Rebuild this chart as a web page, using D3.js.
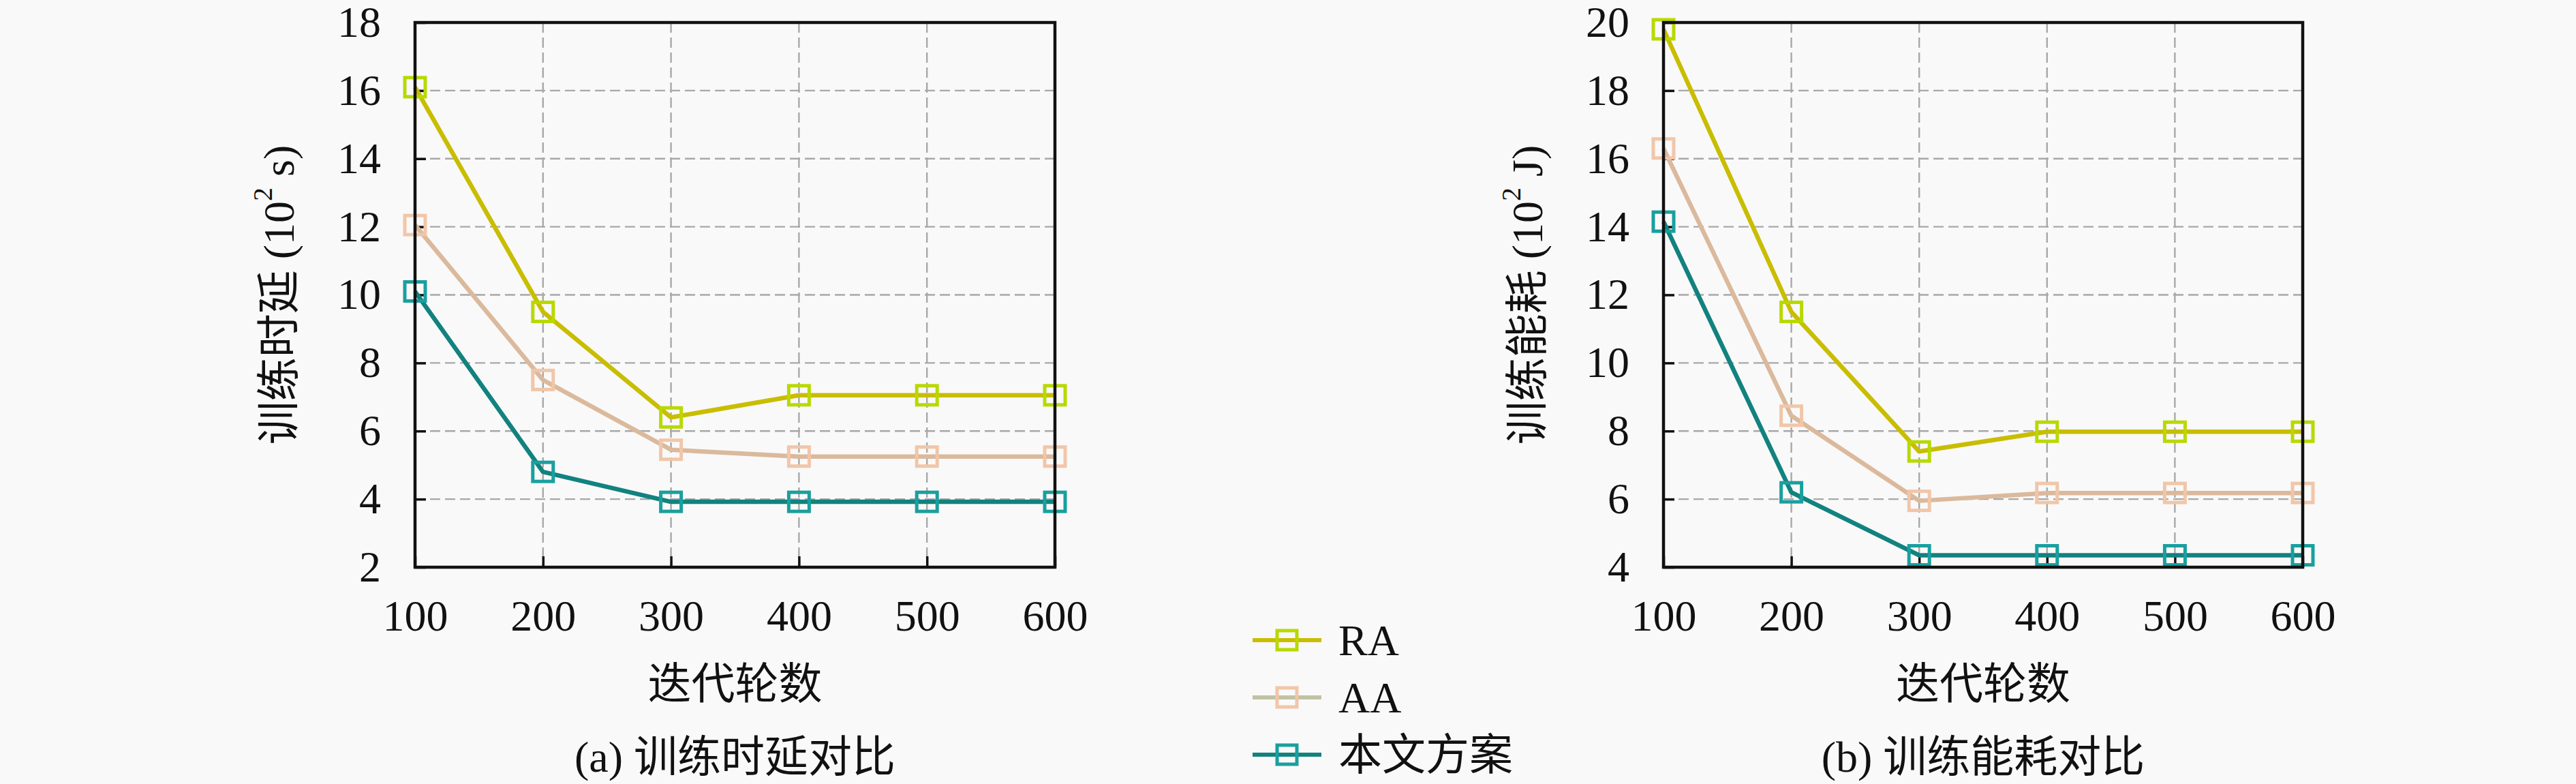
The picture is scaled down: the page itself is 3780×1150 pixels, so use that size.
<!DOCTYPE html>
<html>
<head>
<meta charset="utf-8">
<script src="https://cdn.jsdelivr.net/npm/d3@7"></script>
<style>
  html, body { margin: 0; padding: 0; background: #f9f9f9; }
  svg { display: block; }
  text { font-family: "Liberation Serif", "Noto Sans CJK SC", serif; fill: #111; }
</style>
</head>
<body>
<svg id="chart"></svg>
<script>
'use strict'

// iteration rounds (x axis)
const rounds = [100, 200, 300, 400, 500, 600]
const seriesNames = ['RA', 'AA', '本文方案']

// (a) training latency, 10^2 s
const latencyRA = [16.1, 9.5, 6.4, 7.05, 7.05, 7.05]
const latencyAA = [12.05, 7.5, 5.45, 5.25, 5.25, 5.25]
const latencyOurs = [10.1, 4.8, 3.92, 3.92, 3.92, 3.92]

// (b) training energy, 10^2 J
const energyRA = [19.8, 11.5, 7.4, 7.98, 7.98, 7.98]
const energyAA = [16.3, 8.45, 5.95, 6.18, 6.18, 6.18]
const energyOurs = [14.15, 6.2, 4.35, 4.35, 4.35, 4.35]

const yTicksA = [2, 4, 6, 8, 10, 12, 14, 16, 18]
const yTicksB = [4, 6, 8, 10, 12, 14, 16, 18, 20]

const W = 3780, H = 1150
const colors = {
  line:   ['#c9bd00', '#dbb99c', '#12827f'],
  marker: ['#b8d900', '#f1c6a8', '#1a9f9f'],
  legendLine: ['#c9bd00', '#c2c2a4', '#12827f']
}

const svg = d3.select('#chart').attr('width', W).attr('height', H)

function panel(cfg){
  const g = svg.append('g').attr('transform', `translate(${cfg.left},${cfg.top})`)
  const w = cfg.width, h = cfg.height

  const x = d3.scaleLinear().domain([100, 600]).range([0, w])
  const y = d3.scaleLinear().domain(cfg.yDomain).range([h, 0])

  // grid
  const grid = g.append('g').attr('class', 'grid')
  grid.selectAll('.hgrid').data(cfg.yTicks.slice(1, -1)).enter().append('line')
    .attr('x1', 0).attr('x2', w)
    .attr('y1', d => y(d)).attr('y2', d => y(d))
  grid.selectAll('.vgrid').data(rounds.slice(1, -1)).enter().append('line')
    .attr('x1', d => x(d)).attr('x2', d => x(d))
    .attr('y1', 0).attr('y2', h)
  grid.selectAll('line')
    .attr('stroke', '#a8a8a8').attr('stroke-width', 2.4)
    .attr('stroke-dasharray', '15 7')

  // axes
  const yAxis = g.append('g')
    .call(d3.axisLeft(y).tickValues(cfg.yTicks).tickSizeInner(-16).tickSizeOuter(0).tickPadding(50))
  const xAxis = g.append('g').attr('transform', `translate(0,${h})`)
    .call(d3.axisBottom(x).tickValues(rounds).tickSizeInner(-16).tickSizeOuter(0).tickPadding(48))
  ;[yAxis, xAxis].forEach(a => {
    a.select('.domain').remove()
    a.selectAll('.tick line').attr('stroke', '#111').attr('stroke-width', 3.5)
    a.selectAll('.tick text').attr('font-size', 64).attr('fill', '#111')
      .style('font-family', '"Liberation Serif", serif')
  })

  // series
  const line = d3.line().x((d, i) => x(rounds[i])).y(d => y(d))
  cfg.series.forEach((vals, s) => {
    g.append('path').datum(vals)
      .attr('d', line)
      .attr('fill', 'none')
      .attr('stroke', colors.line[s])
      .attr('stroke-width', 6.5)
      .attr('stroke-linejoin', 'round')
  })
  cfg.series.forEach((vals, s) => {
    g.append('g').selectAll('rect').data(vals).enter().append('rect')
      .attr('x', (d, i) => x(rounds[i]) - 15)
      .attr('y', d => y(d) - 14)
      .attr('width', 30).attr('height', 28)
      .attr('fill', 'none')
      .attr('stroke', colors.marker[s])
      .attr('stroke-width', 5)
  })

  // frame
  g.append('rect').attr('x', 0).attr('y', 0).attr('width', w).attr('height', h)
    .attr('fill', 'none').attr('stroke', '#111').attr('stroke-width', 4.5)

  // y title
  const yt = g.append('text')
    .attr('transform', `translate(${cfg.yTitleX},${h / 2}) rotate(-90)`)
    .attr('text-anchor', 'middle').attr('dominant-baseline', 'central')
    .attr('font-size', 64)
  yt.append('tspan').text(cfg.yTitle + ' (10')
  yt.append('tspan').attr('font-size', 40).attr('dy', -24).text('2')
  yt.append('tspan').attr('dy', 24).text(' ' + cfg.unit + ')')

  // x title
  g.append('text').attr('x', w / 2).attr('y', h + 171)
    .attr('text-anchor', 'middle').attr('dominant-baseline', 'central')
    .attr('font-size', 64).text('迭代轮数')

  // caption
  g.append('text').attr('x', w / 2).attr('y', h + 278)
    .attr('text-anchor', 'middle').attr('dominant-baseline', 'central')
    .attr('font-size', 64).text(cfg.caption)
}

panel({
  left: 609, top: 33, width: 939, height: 799,
  yDomain: [2, 18], yTicks: yTicksA,
  series: [latencyRA, latencyAA, latencyOurs],
  yTitle: '训练时延', unit: 's', yTitleX: -200,
  caption: '(a) 训练时延对比'
})

panel({
  left: 2441, top: 33, width: 938, height: 799,
  yDomain: [4, 20], yTicks: yTicksB,
  series: [energyRA, energyAA, energyOurs],
  yTitle: '训练能耗', unit: 'J', yTitleX: -200,
  caption: '(b) 训练能耗对比'
})

// legend
const legend = svg.append('g').attr('transform', 'translate(1838,939)')
const rows = legend.selectAll('g').data(seriesNames).enter().append('g')
  .attr('transform', (d, i) => `translate(0,${i * 84})`)
rows.append('line').attr('x1', 0).attr('x2', 101).attr('y1', 0).attr('y2', 0)
  .attr('stroke', (d, i) => colors.legendLine[i]).attr('stroke-width', 6)
rows.append('rect').attr('x', 36).attr('y', -14).attr('width', 29).attr('height', 28)
  .attr('fill', 'none').attr('stroke', (d, i) => colors.marker[i]).attr('stroke-width', 5)
rows.append('text').attr('x', 126).attr('y', 0)
  .attr('dominant-baseline', 'central').attr('font-size', 64)
  .text(d => d)
</script>
</body>
</html>
